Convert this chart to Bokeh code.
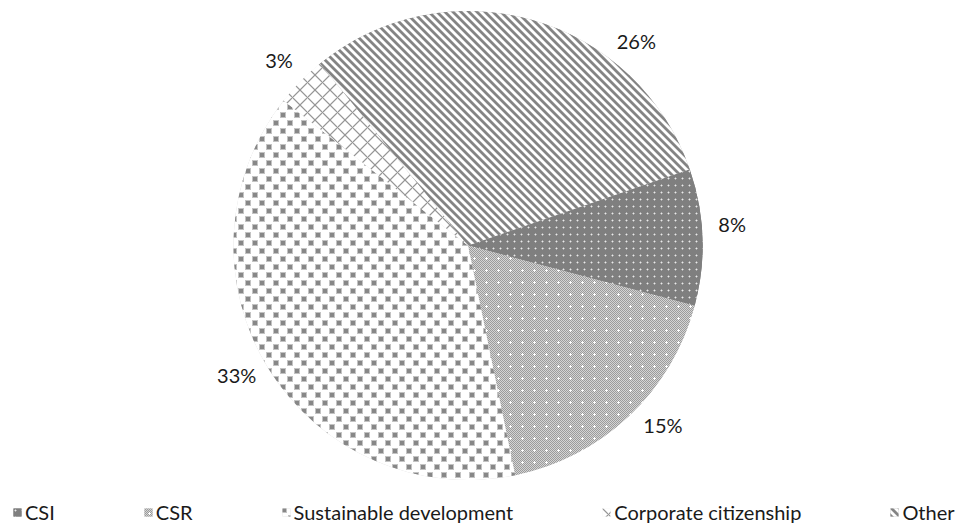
import zlib, struct, base64
import numpy as np
from bokeh.plotting import figure
from bokeh.models import Range1d, Legend, LegendItem, ImageURLTexture
from bokeh.core.properties import value
from bokeh.embed import file_html
from bokeh.resources import INLINE

# ---- data ----
categories = ["CSI", "CSR", "Sustainable development", "Corporate citizenship", "Other"]
shares = [8, 15, 33, 3, 26]
pct_labels = ["8%", "15%", "33%", "3%", "26%"]

# ---- layout / style ----
W, H = 965, 524
CX, CY, R = 467.5, 279.0, 234.5
START_CW = 71.0            # first slice angle, degrees clockwise from 12 o'clock
LABEL_R = 265.0
label_shift = [-2.5, -4.0, 2.5, 0.0, 23.5]
FONT = "Lato"


def png_url(grid):
    """grid: list of rows of gray levels 0..255 -> data URL of an opaque PNG tile"""
    h, w = len(grid), len(grid[0])
    raw = b"".join(b"\x00" + bytes(v for g in row for v in (g, g, g)) for row in grid)

    def chunk(t, d):
        return struct.pack(">I", len(d)) + t + d + struct.pack(">I", zlib.crc32(t + d) & 0xffffffff)
    png = (b"\x89PNG\r\n\x1a\n" + chunk(b"IHDR", struct.pack(">IIBBBBB", w, h, 8, 2, 0, 0, 0))
           + chunk(b"IDAT", zlib.compress(raw)) + chunk(b"IEND", b""))
    return "data:image/png;base64," + base64.b64encode(png).decode()


def tile_csi():
    g = [[127] * 7 for _ in range(7)]
    g[3][3] = 235
    for (yy, xx) in [(2, 3), (4, 3), (3, 2), (3, 4)]:
        g[yy][xx] = 175
    return g


def tile_csr():
    n = 12
    g = [[(155 if (x + y) % 2 == 0 else 212) for x in range(n)] for y in range(n)]
    c = 6
    for (yy, xx) in [(c, c), (c - 1, c), (c + 1, c), (c, c - 1), (c, c + 1)]:
        g[yy][xx] = 255
    return g


def tile_sust():
    w, h = 14, 16
    g = [[255] * w for _ in range(h)]
    for (oy, ox) in [(1, 1), (9, 8)]:
        for yy in range(-1, 5):
            for xx in range(-1, 5):
                edge = yy in (-1, 4) or xx in (-1, 4)
                Y, X = (oy + yy) % h, (ox + xx) % w
                g[Y][X] = min(g[Y][X], 195 if edge else 135)
    return g


def tile_corp():
    n = 15
    g = [[255] * n for _ in range(n)]
    for y in range(n):
        for x in range(n):
            if x == y or x + y == n - 1:
                g[y][x] = 150
            elif (x - y) % n in (1, n - 1) or (x + y - (n - 1)) % n in (1, n - 1):
                g[y][x] = min(g[y][x], 215)
    return g


def tile_other():
    n = 8
    lv = {0: 132, 1: 132, 2: 132, 3: 185, 4: 255, 5: 255, 6: 255, 7: 205}
    return [[lv[(x - y) % n] for x in range(n)] for y in range(n)]


tiles = [tile_csi(), tile_csr(), tile_sust(), tile_corp(), tile_other()]
fallback_fill = ["#7f7f7f", "#bcbcbc", "#d0d0d0", "#f0f0f0", "#b0b0b0"]

vals = np.array(shares, dtype=float)
cum = np.concatenate([[0.0], np.cumsum(vals / vals.sum())]) * 360.0
cw_start = START_CW + cum[:-1]
cw_end = START_CW + cum[1:]

p = figure(width=W, height=H, output_backend="svg", toolbar_location=None,
           x_range=Range1d(0, W), y_range=Range1d(0, H), min_border=0,
           outline_line_color=None, background_fill_color="white")
p.xaxis.visible = False
p.yaxis.visible = False
p.grid.visible = False

items = []
for i, cat in enumerate(categories):
    key = "tex%d" % i
    tex = ImageURLTexture(url=png_url(tiles[i]), repetition="repeat")
    r = p.wedge(x=[CX], y=[CY], radius=R,
                start_angle=[np.radians(90 - cw_start[i])],
                end_angle=[np.radians(90 - cw_end[i])],
                direction="clock", line_color=None, fill_color=fallback_fill[i],
                hatch_pattern=value(key), hatch_extra={key: tex})
    items.append(LegendItem(label=cat, renderers=[r]))

mid = np.radians((cw_start + cw_end) / 2 + np.array(label_shift))
lx = CX + LABEL_R * np.sin(mid)
ly = CY + LABEL_R * np.cos(mid)
p.text(x=lx, y=ly, text=pct_labels, text_align="center", text_baseline="middle",
       text_font=value(FONT), text_font_size="20px", text_color="#1a1a1a")

legend = Legend(items=items, orientation="horizontal", location=(12, 0), spacing=88,
                padding=0, margin=0, glyph_width=10, glyph_height=10, label_standoff=3,
                label_height=20, label_text_font=FONT, label_text_font_size="20px",
                label_text_color="#1a1a1a", border_line_color=None, background_fill_alpha=0)
p.add_layout(legend, "center")

open("out.html", "w").write(file_html(p, INLINE))
